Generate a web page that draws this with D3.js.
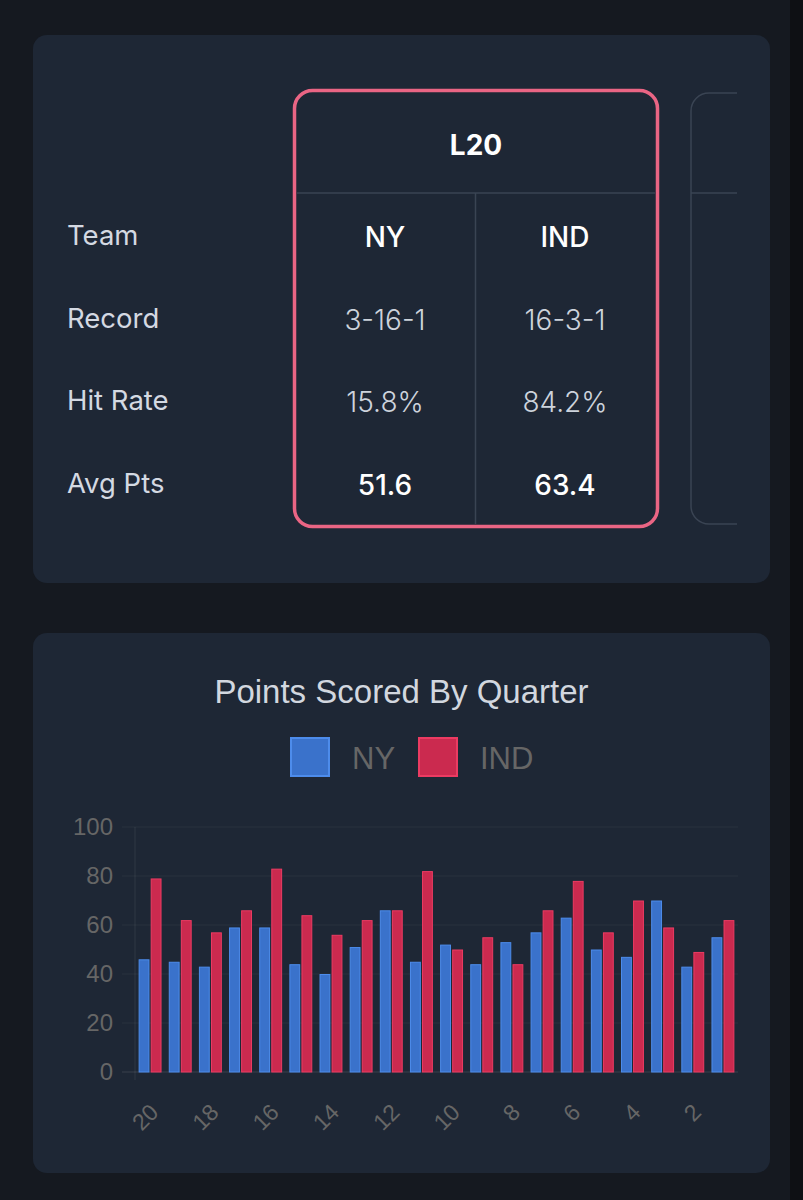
<!DOCTYPE html>
<html>
<head>
<meta charset="utf-8">
<script src="https://cdn.jsdelivr.net/npm/d3@7"></script>
<style>
  html, body { margin: 0; padding: 0; background: #151920; }
  svg { display: block; }
</style>
</head>
<body>
<div id="container"></div>
<script>
// table data
const rowLabels = ["Team", "Record", "Hit Rate", "Avg Pts"];
const periodLabel = "L20";
const nyStats = ["NY", "3-16-1", "15.8%", "51.6"];
const indStats = ["IND", "16-3-1", "84.2%", "63.4"];

// chart data, game 20 (oldest) down to game 1
const games = ["20","19","18","17","16","15","14","13","12","11","10","9","8","7","6","5","4","3","2","1"];
const nyPts  = [46,45,43,59,59,44,40,51,66,45,52,44,53,57,63,50,47,70,43,55];
const indPts = [79,62,57,66,83,64,56,62,66,82,50,55,44,66,78,57,70,59,49,62];
const teams = ["NY", "IND"];
const yTicks = [0, 20, 40, 60, 80, 100];

const width = 803, height = 1200;
const cardFill = "#1e2735";

const svg = d3.select("#container").append("svg")
  .attr("width", width)
  .attr("height", height);

svg.append("rect").attr("width", width).attr("height", height).attr("fill", "#151920");
svg.append("rect").attr("x", 790).attr("width", 13).attr("height", height).attr("fill", "#0e1014");

// ---- top card ----
svg.append("rect")
  .attr("x", 33).attr("y", 35).attr("width", 737).attr("height", 548)
  .attr("rx", 14).attr("fill", cardFill);

const rowY = d3.scalePoint().domain(rowLabels).range([235, 483]);
const tableFont = "Inter, 'Noto Sans', sans-serif";

svg.append("g").selectAll("text")
  .data(rowLabels)
  .join("text")
  .attr("x", 67)
  .attr("y", d => rowY(d))
  .attr("dominant-baseline", "central")
  .attr("font-family", tableFont)
  .attr("font-size", 27.5)
  .attr("fill", "#d4d9e2")
  .text(d => d);

// clipped scroller for the period boxes
svg.append("clipPath").attr("id", "scroll")
  .append("rect").attr("x", 280).attr("y", 80).attr("width", 457).attr("height", 460);

const scroller = svg.append("g").attr("clip-path", "url(#scroll)");

// second (partially visible) box
scroller.append("rect")
  .attr("x", 691).attr("y", 93).attr("width", 360).attr("height", 431)
  .attr("rx", 18).attr("fill", "none").attr("stroke", "#3a4453").attr("stroke-width", 1.5);
scroller.append("line")
  .attr("x1", 691).attr("x2", 1050).attr("y1", 193).attr("y2", 193)
  .attr("stroke", "#3a4453").attr("stroke-width", 1.5);

// highlighted box
scroller.append("rect")
  .attr("x", 294.5).attr("y", 90.5).attr("width", 363).attr("height", 436)
  .attr("rx", 18).attr("fill", "none").attr("stroke", "#ea6584").attr("stroke-width", 3.5);
scroller.append("line")
  .attr("x1", 297).attr("x2", 655).attr("y1", 193).attr("y2", 193)
  .attr("stroke", "#3a4453").attr("stroke-width", 1.5);
scroller.append("line")
  .attr("x1", 475.5).attr("x2", 475.5).attr("y1", 193).attr("y2", 524)
  .attr("stroke", "#3a4453").attr("stroke-width", 1.5);

scroller.append("text")
  .attr("x", 476).attr("y", 145)
  .attr("text-anchor", "middle").attr("dominant-baseline", "central")
  .attr("font-family", tableFont).attr("font-size", 28).attr("font-weight", 700)
  .attr("fill", "#ffffff")
  .text(periodLabel);

const colX = d3.scalePoint().domain(teams).range([385, 565]);
const cols = [nyStats, indStats];

cols.forEach((stats, ci) => {
  scroller.append("g").selectAll("text")
    .data(stats)
    .join("text")
    .attr("x", colX(teams[ci]))
    .attr("y", (d, i) => rowY(rowLabels[i]) + 2)
    .attr("text-anchor", "middle")
    .attr("dominant-baseline", "central")
    .attr("font-family", tableFont)
    .attr("font-size", 28)
    .attr("font-weight", (d, i) => (i == 0 || i == 3) ? 500 : 350)
    .attr("fill", (d, i) => (i == 0 || i == 3) ? "#ffffff" : "#cdd3dc")
    .text(d => d);
});

// ---- bottom card: bar chart ----
svg.append("rect")
  .attr("x", 33).attr("y", 633).attr("width", 737).attr("height", 540)
  .attr("rx", 14).attr("fill", cardFill);

const chartFont = "'Liberation Sans', Arial, sans-serif";

svg.append("text")
  .attr("x", 401.5).attr("y", 703)
  .attr("text-anchor", "middle")
  .attr("font-family", chartFont)
  .attr("font-size", 33)
  .attr("fill", "#d2d7df")
  .text("Points Scored By Quarter");

const fills = { NY: "#3a72cb", IND: "#cb2a4f" };
const strokes = { NY: "#4d8ceb", IND: "#ec3b62" };

// legend
const legendX = d3.scaleOrdinal().domain(teams).range([290, 418]);
const legend = svg.append("g").selectAll("g")
  .data(teams)
  .join("g")
  .attr("transform", d => `translate(${legendX(d)},737)`);
legend.append("rect")
  .attr("x", 1).attr("y", 1).attr("width", 38).attr("height", 38)
  .attr("fill", d => fills[d]).attr("stroke", d => strokes[d]).attr("stroke-width", 2);
legend.append("text")
  .attr("x", 62).attr("y", 21)
  .attr("dominant-baseline", "central")
  .attr("font-family", chartFont).attr("font-size", 31)
  .attr("fill", "#666666")
  .text(d => d);

const plotLeft = 135, plotRight = 738, plotTop = 827, plotBottom = 1072;

const x0 = d3.scaleBand().domain(games).range([plotLeft, plotRight]).paddingInner(0.2).paddingOuter(0.1);
const x1 = d3.scaleBand().domain(teams).range([0, x0.bandwidth()]).paddingInner(0.1).paddingOuter(0.05);
const y = d3.scaleLinear().domain([0, 100]).range([plotBottom, plotTop]);

// grid
svg.append("g").selectAll("line")
  .data(yTicks)
  .join("line")
  .attr("x1", plotLeft - 13).attr("x2", plotRight)
  .attr("y1", d => y(d)).attr("y2", d => y(d))
  .attr("stroke", d => d == 0 ? "rgba(255,255,255,0.12)" : "rgba(255,255,255,0.05)")
  .attr("stroke-width", 1);
svg.append("line")
  .attr("x1", plotLeft).attr("x2", plotLeft).attr("y1", plotTop).attr("y2", plotBottom + 8)
  .attr("stroke", "rgba(255,255,255,0.08)");

// y axis labels
const yAxis = svg.append("g")
  .attr("transform", `translate(${plotLeft - 22},0)`)
  .call(d3.axisLeft(y).tickValues(yTicks).tickSize(0).tickPadding(0));
yAxis.select(".domain").remove();
yAxis.selectAll("text")
  .attr("font-family", chartFont).attr("font-size", 24).attr("fill", "#666666");

// bars
const rows = games.map((g, i) => ({ game: g, NY: nyPts[i], IND: indPts[i] }));
const groups = svg.append("g").selectAll("g")
  .data(rows)
  .join("g")
  .attr("transform", d => `translate(${x0(d.game)},0)`);
groups.selectAll("rect")
  .data(d => teams.map(t => ({ team: t, value: d[t] })))
  .join("rect")
  .attr("x", d => x1(d.team) + 0.5)
  .attr("width", x1.bandwidth() - 1)
  .attr("y", d => y(d.value) + 0.5)
  .attr("height", d => y(0) - y(d.value) - 0.5)
  .attr("fill", d => fills[d.team])
  .attr("stroke", d => strokes[d.team])
  .attr("stroke-width", 1);

// x axis labels (every other one, rotated)
const xAxis = svg.append("g")
  .attr("transform", `translate(0,${plotBottom})`)
  .call(d3.axisBottom(x0).tickValues(games.filter((g, i) => i % 2 == 0)).tickSize(0));
xAxis.select(".domain").remove();
xAxis.selectAll("text")
  .attr("font-family", chartFont).attr("font-size", 23).attr("fill", "#666666")
  .attr("text-anchor", "end")
  .attr("dominant-baseline", "central")
  .attr("dy", null)
  .attr("y", 0)
  .attr("transform", "translate(4,36) rotate(-45)");
</script>
</body>
</html>
